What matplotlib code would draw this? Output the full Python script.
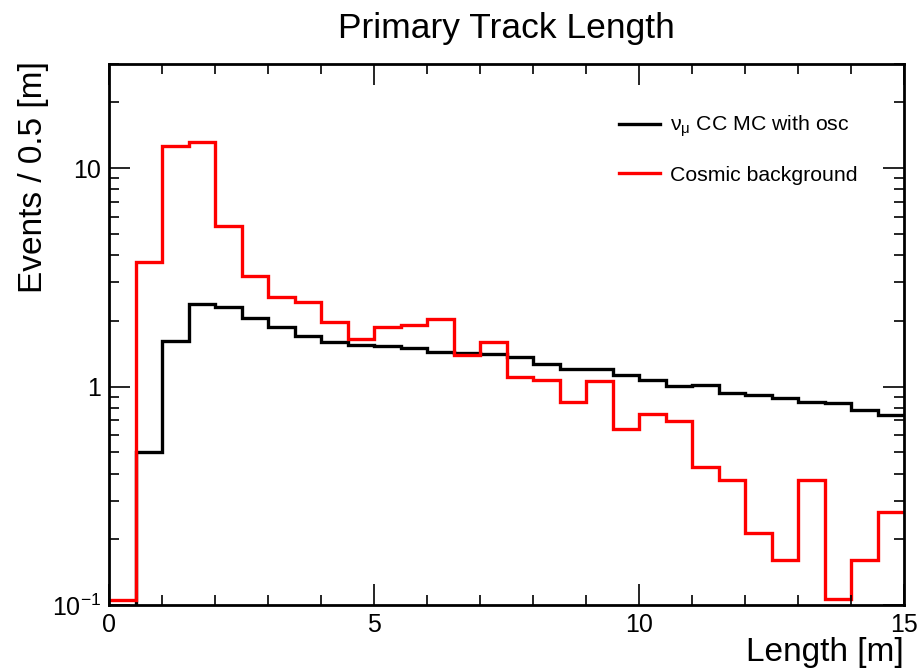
import numpy as np
import matplotlib
matplotlib.use("Agg")
import matplotlib.pyplot as plt
from matplotlib.ticker import FixedLocator, FixedFormatter, LogLocator, NullFormatter, MultipleLocator

plt.rcParams['font.family'] = ['Liberation Sans', 'DejaVu Sans']
plt.rcParams['mathtext.default'] = 'regular'

# bins: 0 - 15 m, 0.5 m wide
edges = np.arange(0, 15.01, 0.5)

# nu_mu CC MC with osc
numu_cc = [0.0, 0.503, 1.61, 2.38, 2.31, 2.07, 1.88, 1.70, 1.60, 1.55,
           1.53, 1.51, 1.44, 1.43, 1.41, 1.36, 1.27, 1.21, 1.20, 1.13,
           1.07, 1.01, 1.02, 0.932, 0.916, 0.884, 0.851, 0.842, 0.779, 0.742]

# cosmic background
cosmic = [0.105, 3.72, 12.7, 13.2, 5.44, 3.21, 2.56, 2.45, 1.98, 1.65,
          1.87, 1.92, 2.03, 1.39, 1.60, 1.11, 1.07, 0.854, 1.065, 0.64,
          0.748, 0.697, 0.428, 0.373, 0.214, 0.160, 0.375, 0.107, 0.160, 0.267]

fig = plt.figure(figsize=(9.23, 6.71), dpi=100)
ax = fig.add_axes([109/923, 66/671, 795/923, (605-64)/671])

ax.stairs(numu_cc, edges, color='black', lw=2.4, label=r'$\nu_{\mu}$ CC MC with osc', baseline=None)
ax.stairs(cosmic, edges, color='red', lw=2.4, label='Cosmic background', baseline=None)

ax.set_yscale('log')
ax.set_xlim(0, 15)
ax.set_ylim(0.1, 30)

ax.xaxis.set_major_locator(MultipleLocator(5))
ax.xaxis.set_minor_locator(MultipleLocator(1))
ax.yaxis.set_major_locator(FixedLocator([0.1, 1, 10]))
ax.yaxis.set_major_formatter(FixedFormatter([r'$10^{-1}$', '1', '10']))
ax.yaxis.set_minor_locator(LogLocator(base=10, subs=np.arange(2, 10)))
ax.yaxis.set_minor_formatter(NullFormatter())

ax.tick_params(which='both', direction='in', top=True, right=True, labelsize=18, width=1.2)
ax.tick_params(which='major', length=15, pad=6)
ax.tick_params(which='minor', length=7)
for s in ax.spines.values():
    s.set_linewidth(2)

ax.set_title('Primary Track Length', fontsize=25.5, pad=19)
ax.set_xlabel('Length [m]', fontsize=24, loc='right', labelpad=0)
ax.set_ylabel('Events / 0.5 [m]', fontsize=24, loc='top')
ax.yaxis.set_label_coords(-0.075, 1.005)

leg = ax.legend(loc='upper right', bbox_to_anchor=(0.942, 0.908), frameon=False, fontsize=15.3,
                handlelength=1.95, labelspacing=1.25, handletextpad=0.47, borderpad=0, borderaxespad=0)

fig.savefig('out.png', dpi=100)
